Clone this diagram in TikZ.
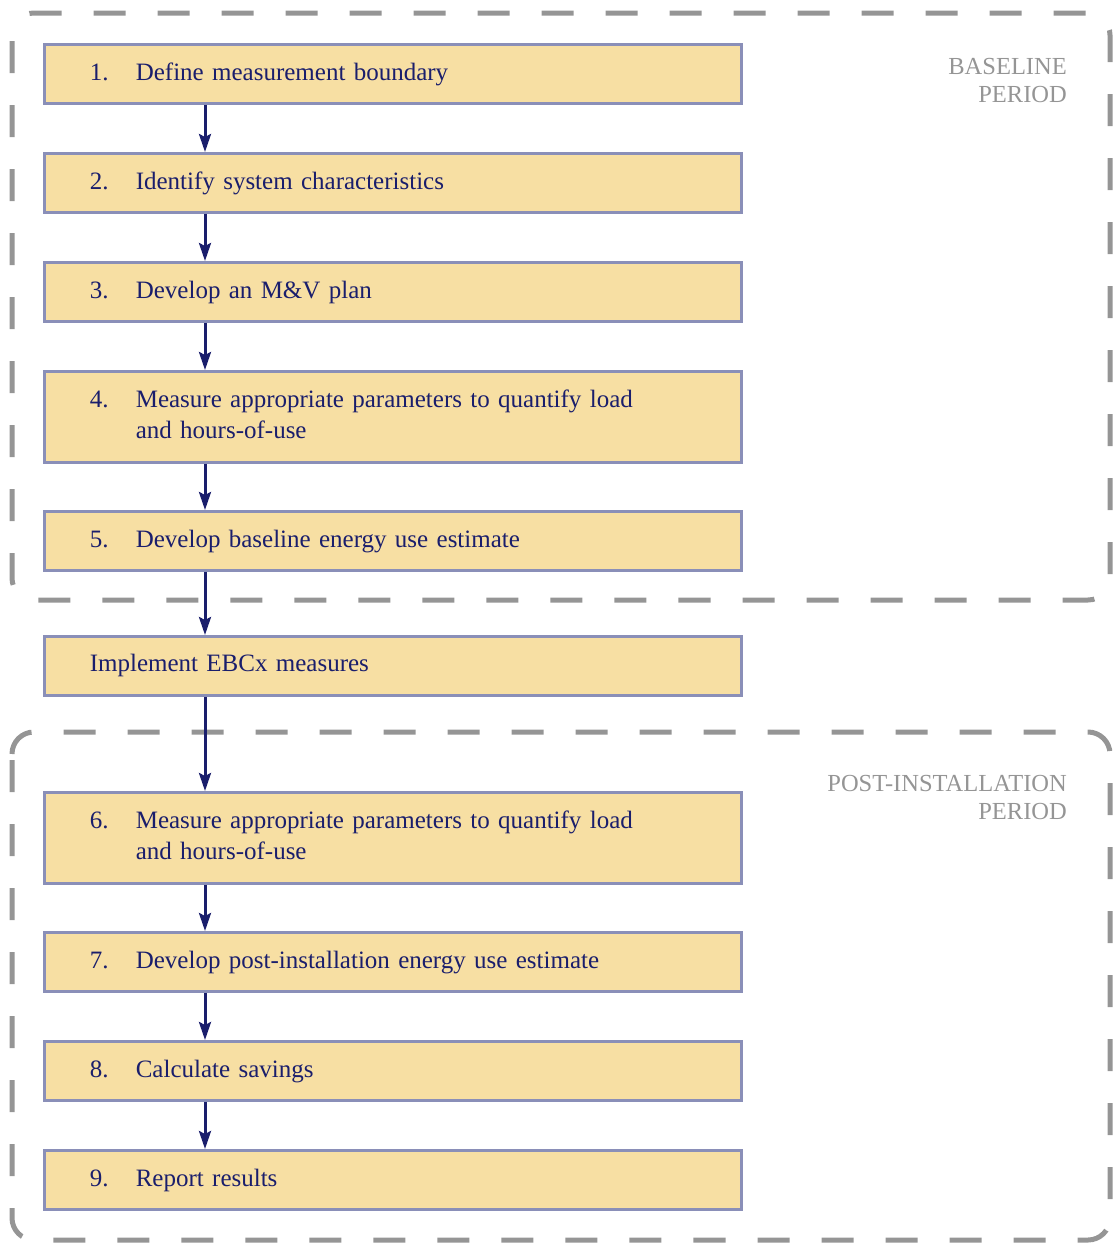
\documentclass[tikz,border=0pt]{standalone}
\usepackage{fontspec}
\setmainfont{Liberation Serif}
\usetikzlibrary{arrows.meta}
\definecolor{boxfill}{HTML}{F7DFA3}
\definecolor{boxline}{HTML}{8A8FB8}
\definecolor{navy}{HTML}{1A1E6C}
\definecolor{frame}{HTML}{959595}
\begin{document}
\begin{tikzpicture}[x=1pt,y=-1pt,
  stepbox/.style={draw=boxline, fill=boxfill, line width=2.8pt, anchor=north west,
    minimum width=697pt, text width=697pt-2*44pt-2.8pt, inner xsep=44pt, inner ysep=0pt,
    align=left, text=navy, font=\fontsize{25}{31}\selectfont},
  flow/.style={draw=navy, line width=3pt, -{Stealth[length=18pt,width=12pt,inset=3pt]}},
  period/.style={draw=frame, line width=5pt, dash pattern=on 32pt off 32pt, dash phase=-6pt, rounded corners=22pt},
  tag/.style={text=frame, font=\fontsize{24.5}{28}\selectfont, align=right, anchor=north east, inner sep=0pt}]
\useasboundingbox (0,0) rectangle (1115,1243);
\newcommand\stp[2]{\begin{tabular}{@{}p{46pt}@{}l@{}}#1 & #2\end{tabular}}
% period frames
\draw[period] (12,13) rectangle (1110,600);
\draw[period] (12,732) rectangle (1110,1240);
\node[tag] (lb) at (1067,58) {BASELINE\\PERIOD};
\node[tag] (lp) at (1067,775) {POST-INSTALLATION\\PERIOD};
% steps
\node[stepbox, minimum height=59pt] (s1) at (43,43) {\stp{1.}{Define measurement boundary}};
\node[stepbox, minimum height=59pt] (s2) at (43,152) {\stp{2.}{Identify system characteristics}};
\node[stepbox, minimum height=59pt] (s3) at (43,261) {\stp{3.}{Develop an M\&V plan}};
\node[stepbox, minimum height=91pt] (s4) at (43,370) {\stp{4.}{Measure appropriate parameters to quantify load\\ & and hours-of-use}};
\node[stepbox, minimum height=59pt] (s5) at (43,510) {\stp{5.}{Develop baseline energy use estimate}};
\node[stepbox, minimum height=59pt] (im) at (43,635) {Implement EBCx measures};
\node[stepbox, minimum height=91pt] (s6) at (43,791) {\stp{6.}{Measure appropriate parameters to quantify load\\ & and hours-of-use}};
\node[stepbox, minimum height=59pt] (s7) at (43,931) {\stp{7.}{Develop post-installation energy use estimate}};
\node[stepbox, minimum height=59pt] (s8) at (43,1040) {\stp{8.}{Calculate savings}};
\node[stepbox, minimum height=59pt] (s9) at (43,1149) {\stp{9.}{Report results}};
% connectors
\foreach \a/\b in {s1/s2,s2/s3,s3/s4,s4/s5,s5/im,im/s6,s6/s7,s7/s8,s8/s9}
  \draw[flow] (\a.south west -| 205,0) -- (\b.north west -| 205,0);
\end{tikzpicture}
\end{document}
